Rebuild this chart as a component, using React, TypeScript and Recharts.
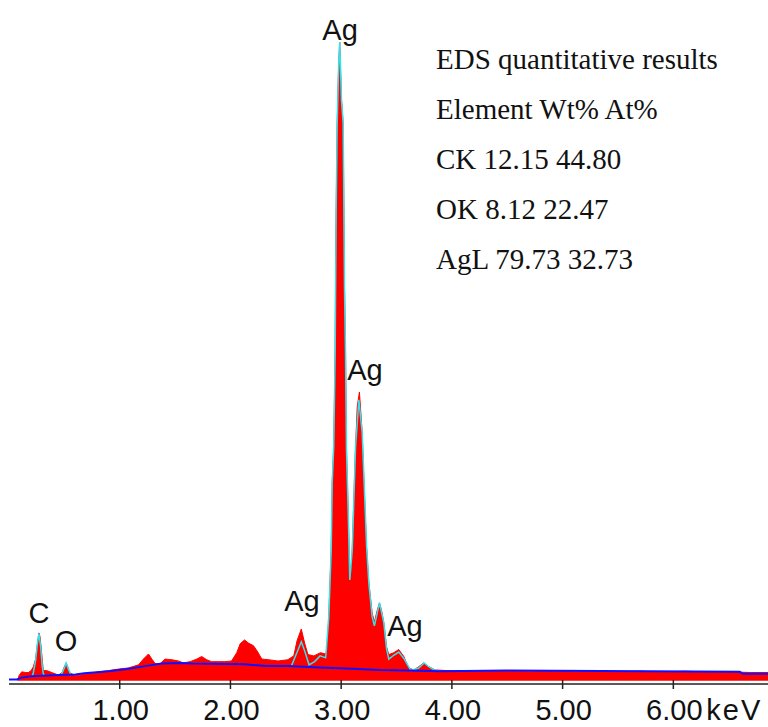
import { ComposedChart, Area, Line, XAxis, YAxis, ReferenceDot } from "recharts";

// red spectrum (keV / counts)
const spectrumE = [
  0.08, 0.09, 0.115, 0.15, 0.175, 0.2, 0.22, 0.24, 0.255, 0.27, 0.28, 0.29, 0.3, 0.31, 0.34, 0.386, 0.446,
  0.48, 0.5, 0.516, 0.53, 0.545, 0.6, 0.717, 0.81, 0.9, 1.015, 1.078, 1.17, 1.214, 1.26, 1.29, 1.32, 1.365,
  1.41, 1.47, 1.53, 1.575, 1.636, 1.696, 1.74, 1.786, 1.83, 1.89, 1.95, 2.01, 2.057, 2.088, 2.127, 2.163,
  2.208, 2.247, 2.283, 2.343, 2.43, 2.518, 2.572, 2.602, 2.64, 2.67, 2.7, 2.753, 2.813, 2.858, 2.874, 2.888,
  2.91, 2.919, 2.933, 2.946, 2.95, 2.955, 2.964, 2.978, 2.987, 3.003, 3.018, 3.024, 3.03, 3.039, 3.048,
  3.063, 3.078, 3.09, 3.1, 3.114, 3.13, 3.145, 3.165, 3.19, 3.204, 3.229, 3.25, 3.28, 3.3, 3.325, 3.346,
  3.365, 3.385, 3.41, 3.43, 3.475, 3.52, 3.566, 3.61, 3.656, 3.7, 3.746, 3.79, 3.85, 3.957, 4.1, 4.3, 4.5,
  4.7, 4.9, 5.1, 5.3, 5.5, 5.7, 5.9, 6.1, 6.3, 6.5, 6.7, 6.855,
];
const spectrumCounts = [
  0, 8, 14, 13, 13, 16, 22, 34, 55, 75, 69, 53, 34, 16, 16, 13, 9,
  13, 22, 28, 22, 13, 8, 11, 14, 16, 19, 20, 25, 34, 42, 34, 27, 27,
  34, 33, 31, 28, 30, 34, 38, 33, 30, 30, 30, 31, 44, 58, 64, 59,
  55, 45, 34, 33, 31, 33, 39, 63, 81, 59, 41, 39, 44, 42, 49, 100,
  205, 310, 368, 518, 664, 737, 873, 967, 1000, 909, 873, 748, 617, 518, 362,
  268, 158, 172, 205, 283, 366, 429, 452, 388, 319, 210, 153, 106, 92, 110, 122,
  110, 91, 53, 41, 44, 49, 38, 20, 17, 22, 28, 22, 17, 16, 16, 15, 16,
  15, 16, 14, 15, 14, 15, 14, 15, 14, 14, 13, 13,
];

// cyan fit, per peak group
const fitCE = [0.21, 0.22, 0.24, 0.255, 0.27, 0.285, 0.3, 0.31, 0.32];
const fitCCounts = [7, 13, 31, 56, 74, 55, 23, 11, 8];
const fitOE = [0.47, 0.5, 0.516, 0.535, 0.56];
const fitOCounts = [9, 20, 28, 19, 9];
const fitAgE = [
  2.55, 2.6, 2.64, 2.67, 2.71, 2.76, 2.81, 2.86, 2.888, 2.91, 2.919, 2.933, 2.946, 2.955, 2.964, 2.978,
  2.987, 3.003, 3.018, 3.024, 3.03, 3.039, 3.048, 3.063, 3.078, 3.1, 3.13, 3.16, 3.19, 3.23, 3.25, 3.28,
  3.3, 3.346, 3.385, 3.41, 3.43, 3.475, 3.52, 3.566, 3.63, 3.7, 3.75, 3.79, 3.85, 3.9,
];
const fitAgCounts = [
  23, 44, 61, 47, 25, 30, 39, 36, 100, 205, 310, 368, 518, 737, 873, 967,
  1000, 909, 873, 748, 617, 518, 362, 268, 158, 205, 366, 440, 388, 210, 153, 100,
  86, 122, 91, 50, 34, 40, 45, 35, 16, 20, 28, 22, 16, 15,
];

// blue background
const bgE = [0, 0.07, 0.115, 0.2, 0.3, 0.45, 0.6, 0.68, 0.9, 1.05, 1.23, 1.38, 1.56, 1.65, 2.12, 2.32, 2.52, 2.81, 3.1, 3.35, 3.91, 4.5, 6.6, 6.63, 6.855];
const bgCounts = [2, 2, 5, 7, 8, 9, 10, 12, 15, 18, 23, 27, 28, 27, 26, 23, 23, 21, 19, 17, 15, 16, 14, 11, 11];

const xTicks = [1, 2, 3, 4, 5, 6];

const peakNames = ["C", "O", "Ag", "Ag", "Ag", "Ag"];
const peakE = [0.271, 0.515, 2.99, 3.215, 2.646, 3.576];
const peakCounts = [90, 47, 1003, 471, 109, 70];

const results = [
  "EDS quantitative results",
  "Element Wt% At%",
  "CK 12.15 44.80",
  "OK 8.12 22.47",
  "AgL 79.73 32.73",
];

type Row = { e: number; [k: string]: number };
const rowMap = new Map<number, Row>();
function put(es: number[], vs: number[], key: string) {
  es.forEach((e, i) => {
    const r = rowMap.get(e) ?? { e };
    r[key] = vs[i];
    rowMap.set(e, r);
  });
}
put(spectrumE, spectrumCounts, "counts");
put(fitCE, fitCCounts, "fitC");
put(fitOE, fitOCounts, "fitO");
put(fitAgE, fitAgCounts, "fitAg");
put(bgE, bgCounts, "bg");
const data = Array.from(rowMap.values()).sort((a, b) => a.e - b.e);

const sans = "'Liberation Sans', Arial, sans-serif";
const CYAN = "#33e3ea";

function Tick(props: any) {
  const { x, y, payload } = props;
  return (
    <g>
      <line x1={x} x2={x} y1={y - 4} y2={y + 5} stroke="#222" strokeWidth={1.5} />
      <text x={x + 1} y={y + 36} textAnchor="middle" fontFamily={sans} fontSize={29} fill="#111">
        {Number(payload.value).toFixed(2)}
      </text>
      {payload.value === 6 && (
        <text x={x + 33} y={y + 36} fontFamily={sans} fontSize={29} letterSpacing={2} fill="#111">
          keV
        </text>
      )}
    </g>
  );
}

export default function App() {
  return (
    <div style={{ position: "absolute", left: 0, top: 0, width: 768, height: 727, background: "#fff" }}>
      <ComposedChart width={768} height={727} data={data} margin={{ top: 42, right: 0, bottom: 3, left: 9 }}>
        <XAxis
          type="number"
          dataKey="e"
          domain={[0, 6.855]}
          ticks={xTicks}
          allowDataOverflow
          height={40}
          tickSize={0}
          tickMargin={0}
          axisLine={{ stroke: "#222", strokeWidth: 1.5 }}
          tickLine={false}
          tick={<Tick />}
        />
        <YAxis hide domain={[-5, 1000]} allowDataOverflow />
        <Area
          type="linear"
          dataKey="counts"
          baseValue={0}
          stroke="#ff0000"
          strokeWidth={1}
          fill="#ff0000"
          fillOpacity={1}
          connectNulls
          isAnimationActive={false}
        />
        {["fitC", "fitO", "fitAg"].map((k) => (
          <Line key={k} type="linear" dataKey={k} stroke={CYAN} strokeWidth={1.5} dot={false} connectNulls isAnimationActive={false} />
        ))}
        <Line type="linear" dataKey="bg" stroke="#1010ff" strokeWidth={2} dot={false} connectNulls isAnimationActive={false} />
        {peakNames.map((n, i) => (
          <ReferenceDot
            key={i}
            x={peakE[i]}
            y={peakCounts[i]}
            ifOverflow="visible"
            shape={(p: any) => (
              <text x={p.cx} y={p.cy} textAnchor="middle" fontFamily={sans} fontSize={29} fill="#111">
                {n}
              </text>
            )}
          />
        ))}
      </ComposedChart>
      <div
        style={{
          position: "absolute",
          left: 436,
          top: 34,
          fontFamily: "'Liberation Serif', 'Times New Roman', serif",
          fontSize: 29,
          lineHeight: "50px",
          color: "#111",
          whiteSpace: "nowrap",
        }}
      >
        {results.map((t) => (
          <div key={t}>{t}</div>
        ))}
      </div>
    </div>
  );
}
